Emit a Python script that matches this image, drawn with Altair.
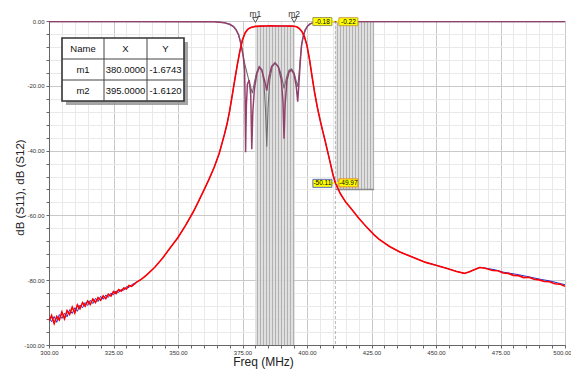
import altair as alt
import pandas as pd

# ---------------- data ----------------
S12_LOW_RED = [(300, -92.6), (301, -90.9), (302, -93.4), (303, -91.2), (304, -92.3), (305, -89.8),
               (306, -91.9), (307, -89.4), (308, -90.6), (309, -88.3), (310, -90.1), (311, -87.6),
               (312, -88.8), (313, -86.9), (314, -88.0), (315, -86.4), (316, -87.5), (317, -85.8),
               (318, -86.9), (319, -85.4), (320, -86.2), (321, -84.8), (322, -85.7), (323, -84.3),
               (324, -84.9), (325, -83.5), (326, -84.1), (327, -82.9), (328, -83.4), (329, -82.4),
               (330, -82.7), (331, -81.6), (332, -81.9)]
S12_LOW_BLUE = [(300, -91.6), (301, -92.8), (302, -91.2), (303, -93.0), (304, -90.6), (305, -91.8),
                (306, -90.2), (307, -91.3), (308, -89.1), (309, -90.3), (310, -88.5), (311, -89.6),
                (312, -87.7), (313, -88.5), (314, -86.9), (315, -87.8), (316, -86.2), (317, -87.2),
                (318, -85.6), (319, -86.6), (320, -85.0), (321, -85.9), (322, -84.6), (323, -85.3),
                (324, -84.0), (325, -84.5), (326, -83.3), (327, -83.8), (328, -82.8), (329, -83.1),
                (330, -82.0), (331, -82.3), (332, -81.4)]
S12_MID = [(334, -80.6), (336, -79.6), (338, -78.3), (341, -76.0), (344, -73.2), (347, -70.0),
           (350, -66.8), (353, -63.0), (356, -58.8), (358, -55.6), (360, -52.3), (362, -48.9),
           (364, -45.2), (366, -40.8), (368, -35.0), (369, -31.8), (370, -27.8), (371, -23.0),
           (372, -18.2), (373, -13.5), (374, -9.2), (375, -5.8), (376, -3.7), (377, -2.6),
           (378, -2.1), (379, -1.85), (380, -1.67), (382, -1.58), (384, -1.52), (386, -1.50),
           (388, -1.52), (390, -1.55), (392, -1.56), (394, -1.58), (395, -1.61), (396, -1.8),
           (397, -2.3), (398, -3.2), (399, -4.8), (400, -7.6), (401, -12.0), (402, -17.3),
           (403, -22.3), (404, -26.6), (405, -30.3), (406, -33.7), (407, -36.9), (408, -40.3),
           (409, -43.7), (410, -47.2), (411, -50.0), (413, -53.4), (415, -55.9), (417, -57.8),
           (420, -60.8), (423, -63.5), (426, -66.0), (428, -67.4), (432, -69.6), (436, -71.3),
           (441, -72.9), (446, -74.5), (450, -75.4), (454, -76.3), (458, -77.3), (461, -77.9),
           (463, -77.4), (465, -76.7)]
S12_HIGH_RED = [(467, -76.1), (469, -76.3), (472, -77.0), (474, -77.1), (476, -77.8), (478, -77.9),
                (480, -78.5), (482, -78.6), (484, -79.2), (486, -79.1), (488, -79.7), (490, -79.9),
                (492, -80.4), (494, -80.5), (496, -81.1), (498, -81.2), (500, -81.9)]
S12_HIGH_BLUE = [(467, -76.0), (470, -76.4), (473, -76.8), (476, -77.5), (479, -77.9), (482, -78.3),
                 (485, -78.8), (488, -79.3), (491, -79.8), (494, -80.2), (497, -80.8), (500, -81.4)]

S11_EDGE_LEFT = [(300, -0.18), (330, -0.18), (360, -0.2), (364, -0.25), (366, -0.35), (368, -0.55),
                 (370, -1.0), (371.5, -1.7), (372.5, -2.7), (373.5, -4.3), (374.5, -7.4), (375.3, -11.0)]
S11_PASS_MAROON = [(375.8, -15.0), (376.0, -24.0), (376.2, -40.5), (376.5, -26.0), (376.9, -19.5),
                   (377.6, -18.2), (378.2, -23.0), (378.6, -39.6), (379.0, -28.0), (379.6, -21.0),
                   (380.5, -16.5), (381.5, -14.2), (382.5, -15.2), (383.6, -18.5), (384.4, -21.5),
                   (385.2, -17.5), (386.3, -14.0), (387.6, -12.9), (388.9, -14.2), (390.0, -18.0),
                   (390.7, -25.0), (391.1, -36.3), (391.5, -26.0), (392.2, -18.5), (393.0, -15.8),
                   (394.0, -15.1), (395.0, -16.5), (395.8, -20.0), (396.4, -24.9), (396.9, -19.0),
                   (397.4, -12.5)]
S11_PASS_GREY = [(376.0, -13.6), (377.2, -17.5), (378.2, -20.5), (378.8, -22.3), (379.6, -19.0),
                 (380.5, -15.8), (381.5, -14.1), (382.5, -15.0), (383.3, -19.0), (383.9, -27.0),
                 (384.4, -38.8), (384.9, -27.0), (385.6, -18.0), (386.5, -14.2), (387.6, -13.0),
                 (388.9, -14.0), (390.0, -16.5), (391.1, -20.8), (392.2, -17.0), (393.0, -15.2),
                 (394.0, -14.8), (395.0, -16.0), (395.8, -18.5), (396.4, -20.3), (396.9, -16.5),
                 (397.4, -11.5)]
S11_EDGE_RIGHT = [(397.9, -7.4), (398.6, -4.5), (399.3, -2.8), (400.2, -1.6), (401.2, -0.9),
                  (402.5, -0.5), (404, -0.3), (408, -0.2), (411, -0.18), (430, -0.18), (500, -0.18)]

MARKER_NAMES = ["m1", "m2"]
MARKER_FREQ = [380.0, 395.0]
MARKER_DB = [-1.6743, -1.6120]
MARKER_X_TEXT = ["380.0000", "395.0000"]
MARKER_Y_TEXT = ["-1.6743", "-1.6120"]
TABLE_HEADER = ["Name", "X", "Y"]

DELTA_FREQ = 411.0
TAG_TOP_TEXT = ["-0.18", "-0.22"]
TAG_TOP_DB = [-0.18, -0.22]
TAG_LOW_TEXT = ["-50.11", "-49.97"]
TAG_LOW_DB = [-50.11, -49.97]

BAND1 = [380.0, 395.0, -1.75, -100.0]
BAND2 = [411.0, 426.0, 0.0, -52.0]

X_TICKS = list(range(300, 501, 5))
Y_TICKS = list(range(-100, 1, 4))

FONT_SMALL = "Liberation Sans, sans-serif"


def frame(pairs, name):
    return pd.DataFrame({"f": [p[0] for p in pairs], "db": [p[1] for p in pairs],
                         "trace": name, "i": list(range(len(pairs)))})


red = frame(S12_LOW_RED + S12_MID + S12_HIGH_RED, "red")
blue = frame(S12_LOW_BLUE + S12_MID + S12_HIGH_BLUE, "blue")
maroon = frame(S11_EDGE_LEFT + S11_PASS_MAROON + S11_EDGE_RIGHT, "maroon")
grey = frame(S11_EDGE_LEFT + S11_PASS_GREY + S11_EDGE_RIGHT, "grey")

xscale = alt.Scale(domain=[300, 500], nice=False, zero=False)
yscale = alt.Scale(domain=[-100, 0], nice=False, zero=False)

xaxis = alt.Axis(
    values=X_TICKS,
    labelExpr="datum.value % 25 === 0 ? format(datum.value, '.2f') : ''",
    gridColor={"condition": {"test": "datum.value % 25 === 0", "value": "#c9c9c9"}, "value": "#e9e9e9"},
    gridWidth=1, tickColor="#666", tickSize=3, domainColor="#666",
    labelFont=FONT_SMALL, labelFontSize=6, labelColor="#333", labelPadding=1,
    labelOffset={"condition": {"test": "datum.value === 500", "value": -3}, "value": 0},
    labelOverlap=False, labelFlush=False,
    title="Freq (MHz)", titleFont="Liberation Sans", titleFontSize=12, titleFontWeight="normal",
    titleColor="#222", titleX=214, titleY=20, titleBaseline="alphabetic", titleAnchor="middle",
    titleAlign="center",
)
yaxis = alt.Axis(
    values=Y_TICKS,
    labelExpr="datum.value % 20 === 0 ? ((datum.value < 0 ? '-' : '') + format(abs(datum.value), '.2f')) : ''",
    gridColor={"condition": {"test": "datum.value % 20 === 0", "value": "#c9c9c9"}, "value": "#e9e9e9"},
    gridWidth=1, tickColor="#666", tickSize=3, domainColor="#666",
    labelFont=FONT_SMALL, labelFontSize=6, labelColor="#333", labelPadding=2,
    labelOverlap=False,
    title="dB (S11), dB (S12)", titleFont="Liberation Sans", titleFontSize=11.5,
    titleFontWeight="normal", titleColor="#222", titleX=-29, titleY=166,
    titleAngle=270, titleBaseline="middle", titleAlign="center",
)


def X(field="f"):
    return alt.X(f"{field}:Q", scale=xscale, axis=xaxis)


def Y(field="db"):
    return alt.Y(f"{field}:Q", scale=yscale, axis=yaxis)


# hatch gradient (style only)
def stripes(n):
    stops = []
    light, dark = "#dcdcdc", "#a9a9a9"
    for k in range(n):
        a = k / n
        b = (k + 0.62) / n
        c = (k + 1) / n
        stops += [alt.GradientStop(color=light, offset=a), alt.GradientStop(color=light, offset=b),
                  alt.GradientStop(color=dark, offset=b), alt.GradientStop(color=dark, offset=c)]
    return alt.LinearGradient(gradient="linear", stops=stops, x1=0, x2=1, y1=0, y2=0)


bands = pd.DataFrame({"x0": [BAND1[0], BAND2[0]], "x1": [BAND1[1], BAND2[1]],
                      "y0": [BAND1[2], BAND2[2]], "y1": [BAND1[3], BAND2[3]]})

band_layer = alt.Chart(bands).mark_rect(fill=stripes(13), opacity=0.9).encode(
    x=X("x0"), x2="x1:Q", y=Y("y0"), y2="y1:Q")

band2_bottom = alt.Chart(bands.iloc[[1]]).mark_rule(color="#8a8a8a", strokeWidth=1.5).encode(
    x=X("x0"), x2="x1:Q", y=Y("y1"))

delta_df = pd.DataFrame({"f": [DELTA_FREQ], "top": [0.0], "bot": [-100.0]})
dash_layer = alt.Chart(delta_df).mark_rule(color="#b5b5b5", strokeDash=[3, 2], strokeWidth=1).encode(
    x=X("f"), y=Y("top"), y2="bot:Q")


def line(df, color, width):
    return alt.Chart(df).mark_line(color=color, strokeWidth=width, clip=True).encode(
        x=X(), y=Y(), order="i:Q")


grey_l = line(grey, "#6e6e6e", 1.1)
maroon_l = line(maroon, "#93406f", 1.5)
blue_l = line(blue, "#1f2fd0", 1.0)
red_l = line(red, "#ff0000", 1.6)

# markers
mk = pd.DataFrame({"name": MARKER_NAMES, "f": MARKER_FREQ, "db": MARKER_DB})
mk_tri = alt.Chart(mk).mark_point(shape="triangle-down", filled=True, fill="white", stroke="#555",
                                  strokeWidth=1, size=32, opacity=1).encode(
    x=X(), y=alt.value(-1))
mk_txt = alt.Chart(mk).mark_text(font="Liberation Sans", fontSize=8.5, color="#333",
                                 baseline="alphabetic").encode(
    x=X(), y=alt.value(-4.5), text="name:N")

# yellow tags at delta marker
tags = pd.DataFrame({
    "f": [DELTA_FREQ] * 4,
    "db": [TAG_TOP_DB[0], TAG_TOP_DB[1], TAG_LOW_DB[0], TAG_LOW_DB[1]],
    "t": [TAG_TOP_TEXT[0], TAG_TOP_TEXT[1], TAG_LOW_TEXT[0], TAG_LOW_TEXT[1]],
    "side": ["L", "R", "L", "R"],
    "edge": ["#9a9a55", "#c9a040", "#5a6fc0", "#e08a20"],
})
tag_layers = []
for side, off, arrow_off, shape in [("L", -13, -2.5, "triangle-right"), ("R", 13, 2.5, "triangle-left")]:
    d = tags[tags.side == side]
    tag_layers.append(alt.Chart(d).mark_point(shape=shape, filled=True, fill="#ffff00", size=22,
                                              opacity=1, xOffset=arrow_off).encode(x=X(), y=Y()))
    tag_layers.append(alt.Chart(d).mark_rect(fill="#ffff00", width=19, height=8, xOffset=off,
                                             strokeWidth=1).encode(
        x=X(), y=Y(), stroke=alt.Stroke("edge:N", scale=None)))
    tag_layers.append(alt.Chart(d).mark_text(font=FONT_SMALL, fontSize=6.5, color="#000",
                                             dx=off, baseline="middle").encode(
        x=X(), y=Y(), text="t:N"))

# marker table (layout in plot pixels)
T_LEFT, T_TOP = 13, 17
COLS = [0, 42, 85, 122]
ROWS = [0, 21, 42, 63]
cells = []
rows_text = [TABLE_HEADER] + [[MARKER_NAMES[k], MARKER_X_TEXT[k], MARKER_Y_TEXT[k]] for k in range(2)]
for r, row in enumerate(rows_text):
    for c, val in enumerate(row):
        cells.append({"px": T_LEFT + (COLS[c] + COLS[c + 1]) / 2,
                      "py": T_TOP + (ROWS[r] + ROWS[r + 1]) / 2 + 0.5, "t": val})
cells = pd.DataFrame(cells)
box = pd.DataFrame({"x0": [T_LEFT], "x1": [T_LEFT + COLS[-1]], "y0": [T_TOP], "y1": [T_TOP + ROWS[-1]]})
vlines = pd.DataFrame({"x": [T_LEFT + COLS[1], T_LEFT + COLS[2]], "y0": [T_TOP] * 2, "y1": [T_TOP + ROWS[-1]] * 2})
hlines = pd.DataFrame({"y": [T_TOP + ROWS[1], T_TOP + ROWS[2]], "x0": [T_LEFT] * 2, "x1": [T_LEFT + COLS[-1]] * 2})

raw = dict(scale=None)
shadow = alt.Chart(box).mark_rect(fill="#8e8e8e", opacity=0.8).encode(
    x=alt.X("sx0:Q", **raw), x2="sx1:Q", y=alt.Y("sy0:Q", **raw), y2="sy1:Q"
).transform_calculate(sx0="datum.x0 + 4", sx1="datum.x1 + 4", sy0="datum.y0 + 4", sy1="datum.y1 + 4")
table_box = alt.Chart(box).mark_rect(fill="white", stroke="#333", strokeWidth=1.6).encode(
    x=alt.X("x0:Q", **raw), x2="x1:Q", y=alt.Y("y0:Q", **raw), y2="y1:Q")
table_v = alt.Chart(vlines).mark_rule(color="#444", strokeWidth=1).encode(
    x=alt.X("x:Q", **raw), y=alt.Y("y0:Q", **raw), y2="y1:Q")
table_h = alt.Chart(hlines).mark_rule(color="#444", strokeWidth=1).encode(
    y=alt.Y("y:Q", **raw), x=alt.X("x0:Q", **raw), x2="x1:Q")
table_t = alt.Chart(cells).mark_text(font=FONT_SMALL, fontSize=9.5, color="#111", baseline="middle").encode(
    x=alt.X("px:Q", **raw), y=alt.Y("py:Q", **raw), text="t:N")

chart = alt.layer(
    band_layer, band2_bottom, dash_layer,
    grey_l, maroon_l, blue_l, red_l,
    mk_tri, mk_txt, *tag_layers,
    shadow, table_box, table_v, table_h, table_t,
).resolve_scale(x="shared", y="shared").properties(
    width=516, height=324, autosize="none",
    padding={"left": 41, "top": 13, "right": 6, "bottom": 25},
    background="white",
).configure_view(stroke="#777", strokeWidth=1)

chart.save("out.html", embed_options={"renderer": "svg", "actions": False})
